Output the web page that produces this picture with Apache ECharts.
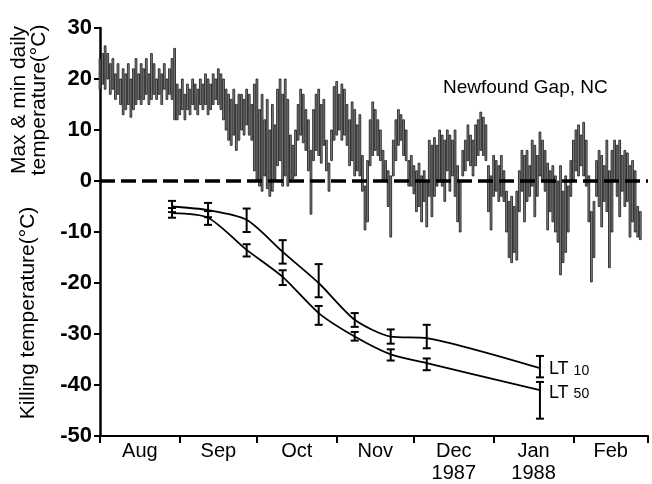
<!DOCTYPE html>
<html><head><meta charset="utf-8">
<script src="https://cdn.jsdelivr.net/npm/echarts@6/dist/echarts.min.js"></script>
<style>html,body{margin:0;padding:0;background:#fff}#chart{width:652px;height:484px}</style>
</head><body><div id="chart"></div>
<script>
// Daily max / min temperature (°C), day 0 = 1 Aug 1987
const tmax = [24,25,26.5,25,23,24,21,23,20,22, 21,23,20,22,24,21,23,22,24,21, 25,23,20,22,21,23,20,22,24,26,
  19,18,20,17,19,18,20,19,18,20, 19,21,20,19,21,20,22,21,20,18, 17,16,18,15,17,17,16,18,17,15,
  19,20,14,17,12,16,10,15,11,18, 20,17,20,16,9,7,10,15,18,17, 14,12,6,14,17,18,15,16,8,3.5,
  10,18.5,19.5,17,19,18,15,12,15.5,14, 11,13,5,-1,4,12,15.5,14,12,10, 6,4,2,1,8,12,14,13,12,10,
  4,5,3,2,3.5,1,2,0,8,7, 8.5,7,10,9,8,10,9,8,10,3, 0,6,8,11,9,8,11,12,13.5,12.5,
  11,3,1,5,4,3,5,2,-2,-4, -3,-5,-2,2,6,5,6,3,8,7, 5,9.6,8,6,3.5,2,3,1,0,3,
  -2,1,-1,4,8,10,11,9,11.5,8, 1,-6,-4,4,6,5,3,8,2,6, 8,7,8,5,6,5.5,3,4,2,-5,-6];
const tmin = [18,19,18,20,17,18,16,17,15,13, 14,15,12.5,14,15,16,15,16,17,15, 16,17,16,17,15,18,16,17,16,12,
  12,13,14,12,14,13,15,14,13,15, 14,15,13,14,15,16,15,14,12,10, 8,7,9,6,8,10,9,11,9,8,
  2,0,-1,-2,1,-1.5,-3,-2,0,3, 4,-1,1,-1,0,0.5,1,8,9,7.5, 6,2,-6.5,4,6,5,3.5,7,2,-2,
  4,8,9,10,8,9,7,3,4,1, 2,1,-2,-9.6,-8,3,5,6,5,4, 0,0,-5,-11,1,4,7,8,5,4,
  -1,-1,-2.5,-6,-5,-8,-4,-9,-3,-7, -3,-1,0,-1,-4,2,-2,1,-3,-8, -10,1,2,4,3,1,3,5,6,5,
  4,-6,-9.6,-3,-2,-4,-3,-4,-10,-15, -16,-14,-15.5,-6,-2,-8,-4,-3,-1,-7, -3,1,0,-2,-9.6,-6,-8,-10,-12,-18.4,
  -16,-14,-10,-3,0,2,1,3,1,-1, -8,-19.8,-15,-3,-5,-9,-4,-6,-17,-10, 0,-3,-7,-2,-5,-4,-11,-8,-10,-11,-11.5];

// Killing temperature samples (day index from 1 Aug)
const sampleDays = [28, 42, 57, 71, 85, 99, 113, 127, 171];
const lt10 = [-5, -5.7, -7.6, -13.9, -20, -27.2, -30.5, -30.8, -36.7];
const lt10Low = [-6.1, -7.1, -10, -16.2, -22.8, -28.6, -31.9, -32.8, -38.5];
const lt10High = [-3.9, -4.3, -5.4, -11.6, -16.3, -25.9, -29.1, -28.2, -34.3];
const lt50 = [-6.3, -7.2, -13.5, -18.8, -25.9, -30.5, -34, -35.7, -41];
const lt50Low = [-7.2, -8.6, -14.8, -20.4, -28.2, -31.3, -35.2, -37.1, -46.6];
const lt50High = [-5.3, -5.9, -12.4, -17.5, -24.5, -29.6, -33, -34.8, -39.4];

// Axes
const monthTicks = [0, 31, 61, 92, 122, 153, 184, 213];
const monthMid = [15.5, 46, 76.5, 107, 137.5, 168.5, 198.5];
const monthLabels = ['Aug', 'Sep', 'Oct', 'Nov', 'Dec\n1987', 'Jan\n1988', 'Feb'];
const yMin = -50, yMax = 30, yStep = 10;

const FONT = '"Liberation Sans", Arial, Helvetica, sans-serif';
const tempData = tmax.map((v, i) => [i, tmin[i], v]);
const err10 = sampleDays.map((d, i) => [d, lt10Low[i], lt10High[i]]);
const err50 = sampleDays.map((d, i) => [d, lt50Low[i], lt50High[i]]);

function errorBar(params, api) {
  const x = api.value(0);
  const lo = api.coord([x, api.value(1)]);
  const hi = api.coord([x, api.value(2)]);
  const c = 4;
  const st = { stroke: '#000', lineWidth: 2 };
  return { type: 'group', children: [
    { type: 'line', shape: { x1: lo[0], y1: lo[1], x2: hi[0], y2: hi[1] }, style: st },
    { type: 'line', shape: { x1: lo[0] - c, y1: lo[1], x2: lo[0] + c, y2: lo[1] }, style: st },
    { type: 'line', shape: { x1: hi[0] - c, y1: hi[1], x2: hi[0] + c, y2: hi[1] }, style: st }
  ]};
}

const chart = echarts.init(document.getElementById('chart'), null, { renderer: 'canvas' });
chart.setOption({
  animation: false,
  backgroundColor: '#fff',
  textStyle: { fontFamily: FONT },
  grid: { left: 100, right: 4, top: 28, bottom: 47 },
  xAxis: {
    type: 'value', min: 0, max: 213,
    splitLine: { show: false },
    axisLine: { show: true, onZero: false, lineStyle: { color: '#000', width: 2 } },
    axisTick: { show: true, customValues: monthTicks, length: 7, lineStyle: { color: '#000', width: 2 } },
    axisLabel: {
      customValues: monthMid, color: '#000', fontSize: 20, lineHeight: 22, margin: 4,
      formatter: v => monthLabels[monthMid.indexOf(v)] || ''
    }
  },
  yAxis: {
    type: 'value', min: yMin, max: yMax, interval: yStep,
    splitLine: { show: false },
    axisLine: { show: true, lineStyle: { color: '#000', width: 2.5 } },
    axisTick: { show: true, length: 6, lineStyle: { color: '#000', width: 2 } },
    axisLabel: { color: '#000', fontSize: 22, fontWeight: 'bold', margin: 8 }
  },
  graphic: [
    { type: 'text', left: 443, top: 78, style: { text: 'Newfound Gap, NC', font: '19px ' + FONT, fill: '#000' } },
    { type: 'text', x: 19, y: 100, rotation: Math.PI / 2, style: { text: 'Max & min daily', font: '21px ' + FONT, fill: '#000', align: 'center', verticalAlign: 'middle' } },
    { type: 'text', x: 39, y: 100, rotation: Math.PI / 2, style: { text: 'temperature(°C)', font: '21px ' + FONT, fill: '#000', align: 'center', verticalAlign: 'middle' } },
    { type: 'text', x: 28, y: 313, rotation: Math.PI / 2, style: { text: 'Killing temperature(°C)', font: '21px ' + FONT, fill: '#000', align: 'center', verticalAlign: 'middle' } }
  ],
  series: [
    {
      type: 'custom', data: tempData, z: 2,
      renderItem: (params, api) => {
        const x = api.value(0);
        const lo = api.coord([x, api.value(1)]);
        const hi = api.coord([x, api.value(2)]);
        const w = api.size([1, 0])[0] * 0.7;
        return { type: 'rect', shape: { x: lo[0] - w / 2, y: hi[1], width: w, height: Math.max(1, lo[1] - hi[1]) },
          style: { fill: '#888', stroke: '#111', lineWidth: 0.8 } };
      },
      markLine: {
        silent: true, symbol: 'none', z: 5,
        label: { show: false },
        lineStyle: { color: '#000', width: 3.5, type: [15, 6] },
        data: [{ yAxis: 0 }]
      }
    },
    {
      type: 'line', data: sampleDays.map((d, i) => [d, lt10[i]]), smooth: 0.25, showSymbol: false, z: 4,
      lineStyle: { color: '#000', width: 1.8 },
      endLabel: { show: true, distance: 9, formatter: 'LT {s|10}', color: '#000', fontSize: 18, offset: [0, 1],
        rich: { s: { fontSize: 14, color: '#000', padding: [3, 0, 0, 0] } } }
    },
    {
      type: 'line', data: sampleDays.map((d, i) => [d, lt50[i]]), smooth: 0.25, showSymbol: false, z: 4,
      lineStyle: { color: '#000', width: 1.8 },
      endLabel: { show: true, distance: 9, formatter: 'LT {s|50}', color: '#000', fontSize: 18, offset: [0, 3],
        rich: { s: { fontSize: 14, color: '#000', padding: [3, 0, 0, 0] } } }
    },
    { type: 'custom', data: err10, renderItem: errorBar, z: 4 },
    { type: 'custom', data: err50, renderItem: errorBar, z: 4 }
  ]
});
</script></body></html>
